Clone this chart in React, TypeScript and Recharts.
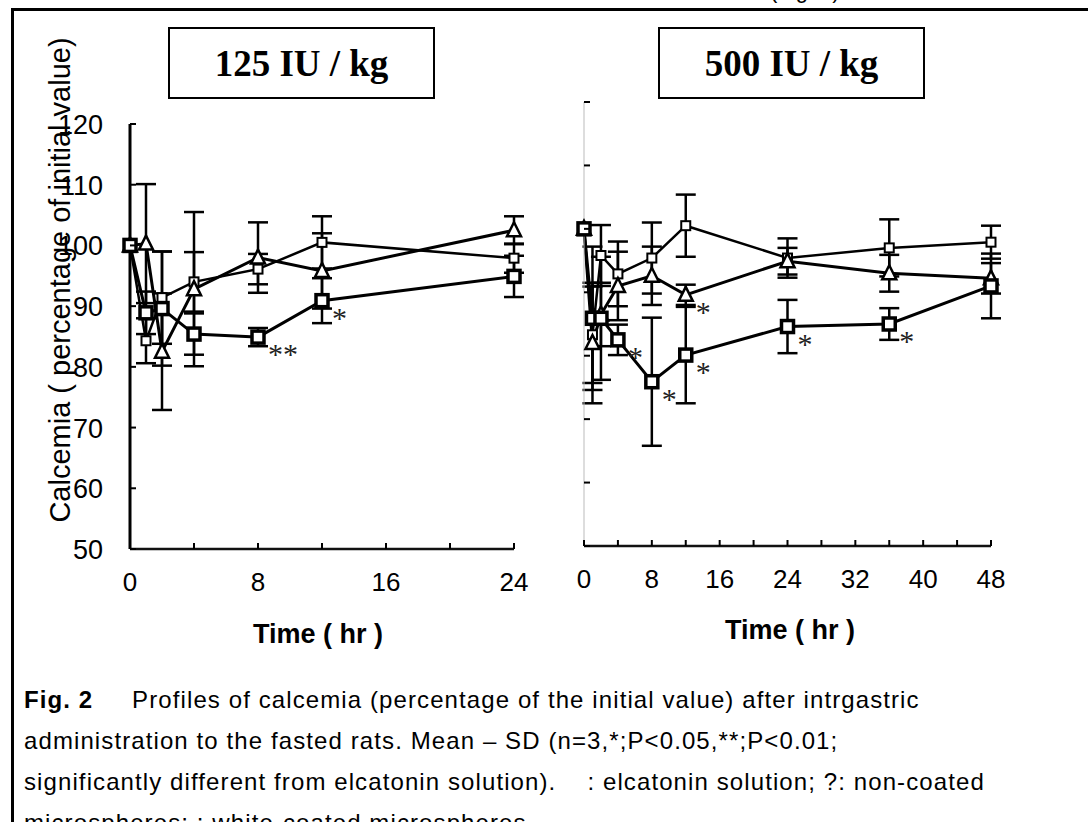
import { LineChart, Line, XAxis, YAxis, ErrorBar, LabelList } from 'recharts';

// 125 IU / kg panel
const timesLeft = [0, 1, 2, 4, 8, 12, 24];
const openLeft = [100, 84.3, 91.4, 94.0, 96.1, 100.5, 97.9];
const openLeftSd = [0, 3.7, 7.6, 4.9, 2.5, 4.3, 2.4];
const triLeft = [100, 100.3, 82.5, 92.8, 98.0, 95.8, 102.5];
const triLeftSd = [0, 9.8, 9.6, 12.7, 5.8, 6.2, 2.3];
const boldLeft = [100, 88.9, 89.6, 85.4, 84.9, 90.9, 94.9];
const boldLeftSd = [0, 3.5, 9.4, 3.4, 1.5, 3.7, 3.4];
const boldLeftStars = ['', '', '', '', '**', '*', ''];

// 500 IU / kg panel
const timesRight = [0, 1, 2, 4, 8, 12, 24, 36, 48];
const openRight = [100, 83.3, 95.8, 92.9, 95.4, 100.5, 95.4, 97.0, 97.9];
const openRightSd = [0, 7.6, 4.8, 5.1, 5.6, 4.9, 3.1, 4.5, 2.6];
const triRight = [100, 82.0, 86.5, 91.0, 92.6, 89.6, 94.9, 93.0, 92.2];
const triRightSd = [0, 9.5, 5.0, 5.4, 4.6, 1.6, 2.1, 2.9, 2.4];
const triRightStars = ['', '', '', '', '', '*', '', '', ''];
const boldRight = [100, 85.9, 85.9, 82.5, 75.9, 80.1, 84.6, 85.0, 91.0];
const boldRightSd = [0, 11.3, 9.7, 2.4, 10.1, 7.6, 4.2, 2.5, 5.1];
const boldRightStars = ['', '', '', '*', '*', '*', '*', '*', ''];

const yTicks = [50, 60, 70, 80, 90, 100, 110, 120];
const xTicksLeft = [0, 4, 8, 12, 16, 20, 24];
const xTicksRight = [0, 4, 8, 12, 16, 20, 24, 28, 32, 36, 40, 44, 48];

const build = (times: number[], vals: number[], sd: number[], stars?: string[]) =>
  times.map((t, i) => ({ t, v: vals[i], e: sd[i], s: stars ? stars[i] : '' }));

const SANS = 'Arial, "Liberation Sans", sans-serif';
const SERIF = '"Times New Roman", "Liberation Serif", serif';

const SmallSquare = (p: any) => (
  <rect key={p.key} x={p.cx - 4.5} y={p.cy - 4.5} width={9} height={9} fill="#fff" stroke="#000" strokeWidth={2} />
);
const Triangle = (p: any) => (
  <path key={p.key} d={`M${p.cx},${p.cy - 8} L${p.cx + 7},${p.cy + 6} L${p.cx - 7},${p.cy + 6} Z`} fill="#fff" stroke="#000" strokeWidth={2.5} />
);
const BoldSquare = (p: any) => (
  <rect key={p.key} x={p.cx - 6} y={p.cy - 6} width={12} height={12} fill="#fff" stroke="#000" strokeWidth={3.5} />
);

const Star = (p: any) =>
  p.value ? (
    <text x={p.x + 10} y={p.y + 27} fontFamily={SERIF} fontSize={30} fill="#222">
      {p.value}
    </text>
  ) : null;

function yTick(axisX: number, labels: boolean) {
  return (p: any) => (
    <g>
      <line x1={axisX} x2={axisX + 6} y1={p.y} y2={p.y} stroke="#000" strokeWidth={2} />
      {labels && (
        <text x={axisX - 27} y={p.y} dy={10} textAnchor="end" fontFamily={SANS} fontSize={27} fill="#000">
          {p.payload.value}
        </text>
      )}
    </g>
  );
}

function xTick(axisY: number) {
  return (p: any) => (
    <g>
      <line x1={p.x} x2={p.x} y1={axisY} y2={axisY - 6} stroke="#000" strokeWidth={2} />
      {p.payload.value % 8 === 0 && (
        <text x={p.x} y={axisY + 42} textAnchor="middle" fontFamily={SANS} fontSize={26} fill="#000">
          {p.payload.value}
        </text>
      )}
    </g>
  );
}

const Y_W = 40;
const X_H = 30;

function Panel(props: {
  times: number[];
  open: number[];
  openSd: number[];
  tri: number[];
  triSd: number[];
  triStars?: string[];
  bold: number[];
  boldSd: number[];
  boldStars: string[];
  maxT: number;
  xTicks: number[];
  plotLeft: number;
  plotTop: number;
  plotRight: number;
  plotBottom: number;
  width: number;
  height: number;
  labels: boolean;
  axisColor: string;
  axisWidth: number;
}) {
  const margin = {
    top: props.plotTop,
    left: props.plotLeft - Y_W,
    right: props.width - props.plotRight,
    bottom: props.height - props.plotBottom - X_H,
  };
  return (
    <LineChart width={props.width} height={props.height} margin={margin}>
      <XAxis
        dataKey="t"
        type="number"
        domain={[0, props.maxT]}
        ticks={props.xTicks}
        height={X_H}
        axisLine={{ stroke: '#111', strokeWidth: 2.5 }}
        tickLine={false}
        tick={xTick(props.plotBottom)}
        interval={0}
      />
      <YAxis
        type="number"
        domain={[50, 120]}
        ticks={yTicks}
        width={Y_W}
        axisLine={{ stroke: props.axisColor, strokeWidth: props.axisWidth }}
        tickLine={false}
        tick={yTick(props.plotLeft, props.labels)}
        interval={0}
      />
      <Line
        data={build(props.times, props.open, props.openSd)}
        dataKey="v"
        stroke="#000"
        strokeWidth={2.5}
        dot={SmallSquare}
        isAnimationActive={false}
      >
        <ErrorBar dataKey="e" width={10} stroke="#000" strokeWidth={2.5} direction="y" />
      </Line>
      <Line
        data={build(props.times, props.tri, props.triSd, props.triStars)}
        dataKey="v"
        stroke="#000"
        strokeWidth={3}
        dot={Triangle}
        isAnimationActive={false}
      >
        <ErrorBar dataKey="e" width={10} stroke="#000" strokeWidth={2.5} direction="y" />
        <LabelList dataKey="s" content={Star} />
      </Line>
      <Line
        data={build(props.times, props.bold, props.boldSd, props.boldStars)}
        dataKey="v"
        stroke="#000"
        strokeWidth={3}
        dot={BoldSquare}
        isAnimationActive={false}
      >
        <ErrorBar dataKey="e" width={10} stroke="#000" strokeWidth={2.5} direction="y" />
        <LabelList dataKey="s" content={Star} />
      </Line>
    </LineChart>
  );
}

const boxStyle: any = {
  position: 'absolute',
  top: 27,
  height: 72,
  border: '2.5px solid #000',
  boxSizing: 'border-box',
  display: 'flex',
  alignItems: 'center',
  justifyContent: 'center',
  fontFamily: SERIF,
  fontWeight: 'bold',
  fontSize: 37,
  background: '#fff',
};

const captionLine: any = {
  position: 'absolute',
  left: 24,
  fontFamily: SANS,
  fontSize: 24,
  letterSpacing: 1.1,
  whiteSpace: 'nowrap',
  color: '#000',
};

export default function App() {
  return (
    <div style={{ position: 'absolute', left: 0, top: 0, width: 1088, height: 822, overflow: 'hidden', background: '#fff' }}>
      <div style={{ position: 'absolute', left: 770, top: -22, fontFamily: SANS, fontSize: 22 }}>(Fig. 2)</div>
      <div style={{ position: 'absolute', left: 11, top: 8, width: 1077, height: 3, background: '#000' }} />
      <div style={{ position: 'absolute', left: 11, top: 8, width: 3, height: 814, background: '#000' }} />

      <div style={{ position: 'absolute', left: 0, top: 0 }}>
        <Panel
          times={timesLeft}
          open={openLeft}
          openSd={openLeftSd}
          tri={triLeft}
          triSd={triLeftSd}
          bold={boldLeft}
          boldSd={boldLeftSd}
          boldStars={boldLeftStars}
          maxT={24}
          xTicks={xTicksLeft}
          plotLeft={130}
          plotTop={124}
          plotRight={514}
          plotBottom={549}
          width={600}
          height={660}
          labels={true}
          axisColor="#000"
          axisWidth={3}
        />
      </div>
      <div style={{ position: 'absolute', left: 540, top: 0 }}>
        <Panel
          times={timesRight}
          open={openRight}
          openSd={openRightSd}
          tri={triRight}
          triSd={triRightSd}
          triStars={triRightStars}
          bold={boldRight}
          boldSd={boldRightSd}
          boldStars={boldRightStars}
          maxT={48}
          xTicks={xTicksRight}
          plotLeft={44}
          plotTop={102}
          plotRight={451}
          plotBottom={546}
          width={540}
          height={660}
          labels={false}
          axisColor="#bbb"
          axisWidth={1}
        />
      </div>

      <div style={{ ...boxStyle, left: 168, width: 267 }}>125 IU / kg</div>
      <div style={{ ...boxStyle, left: 658, width: 267 }}>500 IU / kg</div>

      <div
        style={{
          position: 'absolute',
          left: 60,
          top: 280,
          transform: 'translate(-50%, -50%) rotate(-90deg)',
          fontFamily: SANS,
          fontSize: 29,
          whiteSpace: 'nowrap',
        }}
      >
        Calcemia ( percentage of initial value)
      </div>

      <div style={{ position: 'absolute', left: 318, top: 634, transform: 'translate(-50%, -50%)', fontFamily: SANS, fontWeight: 'bold', fontSize: 27, whiteSpace: 'nowrap' }}>
        Time ( hr )
      </div>
      <div style={{ position: 'absolute', left: 790, top: 630, transform: 'translate(-50%, -50%)', fontFamily: SANS, fontWeight: 'bold', fontSize: 27, whiteSpace: 'nowrap' }}>
        Time ( hr )
      </div>

      <div style={{ ...captionLine, top: 686 }}>
        <b>Fig. 2</b>&nbsp;&nbsp;&nbsp;&nbsp; Profiles of calcemia (percentage of the initial value) after intrgastric
      </div>
      <div style={{ ...captionLine, top: 727 }}>
        administration to the fasted rats. Mean – SD (n=3,*;P&lt;0.05,**;P&lt;0.01;
      </div>
      <div style={{ ...captionLine, top: 768 }}>
        significantly different from elcatonin solution).&nbsp;&nbsp;&nbsp; : elcatonin solution; ?: non-coated
      </div>
      <div style={{ ...captionLine, top: 809 }}>
        microspheres; : white-coated microspheres.
      </div>
    </div>
  );
}
